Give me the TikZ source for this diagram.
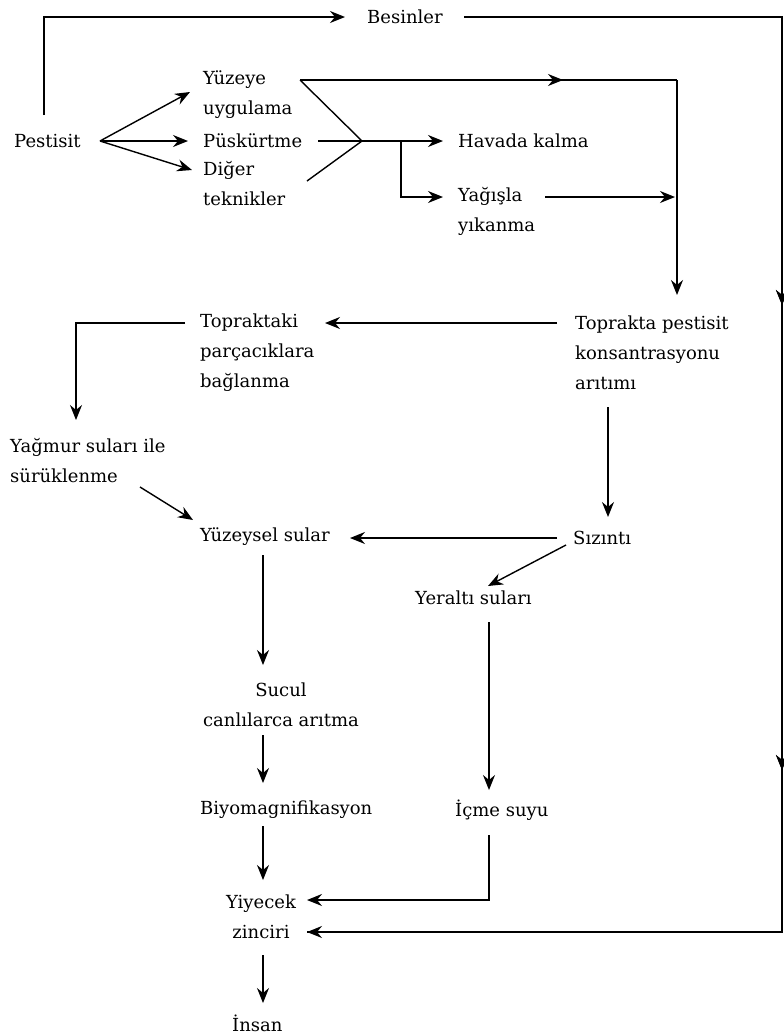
\documentclass[tikz,border=0pt]{standalone}
\usepackage{fontspec}
\setmainfont{DejaVu Serif}
\usetikzlibrary{arrows.meta,decorations.markings}
\tikzset{
  lbl/.style={font=\fontsize{18}{30}\selectfont, inner sep=0pt, anchor=west, align=left},
  lblc/.style={font=\fontsize{18}{30}\selectfont, inner sep=0pt, align=center},
  conn/.style={line width=1.4pt, draw=black},
  arr/.style={conn, -{Stealth[length=15pt,width=12pt,inset=5pt]}},
  midarr/.style={postaction={decorate}, decoration={markings, mark=at position #1 with {\arrow{Stealth[length=15pt,width=12pt,inset=5pt]}}}}
}
\begin{document}
\begin{tikzpicture}[x=1pt,y=-1pt]
\useasboundingbox (0,0) rectangle (784,1034);
% nodes
\node[lbl] (besin) at (367,17) {Besinler};
\node[lbl] (pest) at (14,141) {Pestisit};
\node[lbl] (yuz) at (203,95) {Yüzeye\\uygulama};
\node[lbl] (pusk) at (203,141) {Püskürtme};
\node[lbl] (diger) at (203,184) {Diğer\\teknikler};
\node[lbl] (hava) at (458,141) {Havada kalma};
\node[lbl] (yagis) at (458,211) {Yağışla\\yıkanma};
\node[lbl] (topta) at (575,353) {Toprakta pestisit\\konsantrasyonu\\arıtımı};
\node[lbl] (topki) at (200,353) {Topraktaki\\parçacıklara\\bağlanma};
\node[lbl] (yagmur) at (10,461) {Yağmur suları ile\\sürüklenme};
\node[lbl] (yuzey) at (200,537) {Yüzeysel sular};
\node[lbl] (sizinti) at (573,538) {Sızıntı};
\node[lbl] (yeralti) at (415,598) {Yeraltı suları};
\node[lblc] (sucul) at (281,705) {Sucul\\canlılarca arıtma};
\node[lbl] (biyo) at (200,810) {Biyomagnifikasyon};
\node[lbl] (icme) at (455,810) {İçme suyu};
\node[lblc] (yiyecek) at (261,917) {Yiyecek\\zinciri};
\node[lbl] (insan) at (232,1023) {İnsan};
% coordinates
\coordinate (pUp) at (44,115);
\coordinate (pTop) at (44,17);
\coordinate (besTip) at (345,17);
\coordinate (besOut) at (464,17);
\coordinate (rTop) at (782,17);
\coordinate (rBot) at (782,932);
\coordinate (zinTip) at (307,932);
\coordinate (pOut) at (100,141);
\coordinate (yuzTip) at (190,92);
\coordinate (puskTip) at (188,141);
\coordinate (digTip) at (192,170);
\coordinate (yuzOut) at (300,80);
\coordinate (puskOut) at (318,141);
\coordinate (digOut) at (307,181);
\coordinate (junc) at (362,141);
\coordinate (branch) at (401,141);
\coordinate (havaTip) at (443,141);
\coordinate (yagTip) at (443,197);
\coordinate (tRight) at (677,80);
\coordinate (toptaTip) at (677,295);
\coordinate (yagOut) at (545,197);
\coordinate (yagEnd) at (675,197);
\coordinate (toptaOut) at (557,323);
\coordinate (topkiTip) at (325,323);
\coordinate (topkiOut) at (185,323);
\coordinate (tkCorner) at (76,323);
\coordinate (yagmurTip) at (76,420);
\coordinate (yagmurOut) at (140,487);
\coordinate (yuzeyTip) at (193,520);
\coordinate (toptaDown) at (608,407);
\coordinate (sizTip) at (608,517);
\coordinate (sizOut) at (557,538);
\coordinate (yuzeyTip2) at (350,538);
\coordinate (sizOut2) at (566,545);
\coordinate (yerTip) at (488,586);
\coordinate (yuzeyDown) at (263,555);
\coordinate (sucTip) at (263,665);
\coordinate (sucDown) at (263,735);
\coordinate (biyoTip) at (263,783);
\coordinate (biyoDown) at (263,826);
\coordinate (yiyTip) at (263,880);
\coordinate (yerDown) at (489,622);
\coordinate (icmeTip) at (489,790);
\coordinate (icmeDown) at (489,835);
\coordinate (yiyTip2) at (307,900);
\coordinate (yiyDown) at (263,955);
\coordinate (insanTip) at (263,1003);
% connectors
\draw[arr] (pUp) -- (pTop) -- (besTip);
\draw[conn, midarr=606pt, midarr=1071pt] (besOut) -- (rTop) -- (rBot) -- (zinTip);
\draw[arr] (rBot) -- (zinTip);
\draw[arr] (pOut) -- (yuzTip);
\draw[arr] (pOut) -- (puskTip);
\draw[arr] (pOut) -- (digTip);
\draw[conn] (yuzOut) -- (junc);
\draw[conn] (puskOut) -- (junc);
\draw[conn] (digOut) -- (junc);
\draw[arr] (junc) -- (havaTip);
\draw[arr] (branch) |- (yagTip);
\draw[conn, midarr=263pt] (yuzOut) -- (tRight);
\draw[arr] (tRight) -- (toptaTip);
\draw[arr] (yagOut) -- (yagEnd);
\draw[arr] (toptaOut) -- (topkiTip);
\draw[arr] (topkiOut) -- (tkCorner) -- (yagmurTip);
\draw[arr] (yagmurOut) -- (yuzeyTip);
\draw[arr] (toptaDown) -- (sizTip);
\draw[arr] (sizOut) -- (yuzeyTip2);
\draw[arr] (sizOut2) -- (yerTip);
\draw[arr] (yuzeyDown) -- (sucTip);
\draw[arr] (sucDown) -- (biyoTip);
\draw[arr] (biyoDown) -- (yiyTip);
\draw[arr] (yerDown) -- (icmeTip);
\draw[arr] (icmeDown) |- (yiyTip2);
\draw[arr] (yiyDown) -- (insanTip);
\end{tikzpicture}
\end{document}
